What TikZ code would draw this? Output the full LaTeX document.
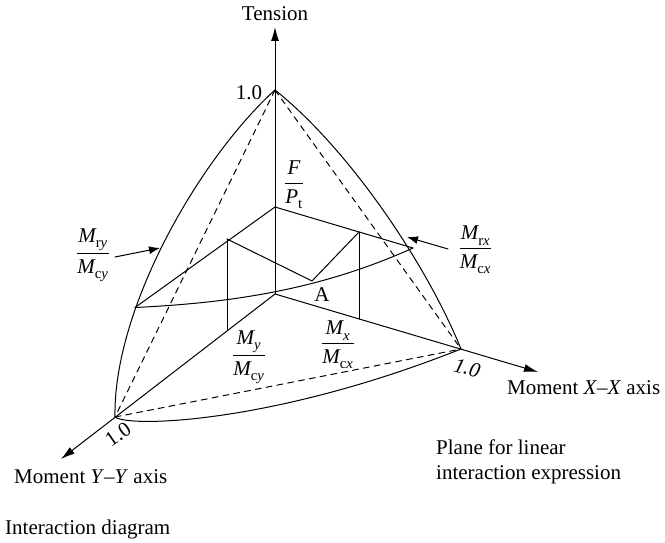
\documentclass[tikz,border=0pt]{standalone}
\usepackage{fontspec}
\setmainfont{Liberation Serif}
\usepackage{unicode-math}
\setmathfont{Latin Modern Math}
\setmathfont[range=it]{Liberation Serif Italic}
\setmathfont[range=up]{Liberation Serif}
\usetikzlibrary{arrows.meta}
\tikzset{
  axisline/.style={line width=1pt,-{Latex[length=14pt,width=8pt]}},
  edge/.style={line width=1pt},
  hidden/.style={line width=1pt,dash pattern=on 6pt off 5pt},
  lbl/.style={font=\fontsize{21}{24.5}\selectfont,inner sep=0pt,align=left}
}
\newcommand{\ratio}[2]{$\dfrac{#1}{#2}$}
\begin{document}
\begin{tikzpicture}[x=1pt,y=-1pt,line cap=round,line join=round]
  \useasboundingbox (0,0) rectangle (665,543);
  \coordinate (orig) at (275,294);
  \coordinate (top) at (275,90);
  \coordinate (xpt) at (461,349);
  \coordinate (ypt) at (115,417);
  \coordinate (ftop) at (275,207);
  \coordinate (rleft) at (135,307.5);
  \coordinate (rright) at (413,248);
  \coordinate (lmid) at (227,239);
  \coordinate (rmid) at (359,232);
  \coordinate (ptA) at (312,281);
  \coordinate (llow) at (227,330);
  \coordinate (rlow) at (359,319);
  \coordinate (ztip) at (275,27);
  \coordinate (xtip) at (538,372);
  \coordinate (ytip) at (61,459);
  \coordinate (rya) at (115,257);
  \coordinate (ryb) at (160,248);
  \coordinate (rxa) at (448,249);
  \coordinate (rxb) at (407,237);
  % axes
  \draw[axisline] (orig) -- (ztip);
  \draw[axisline] (orig) -- (xtip);
  \draw[axisline] (orig) -- (ytip);
  % outer surface
  \draw[edge] (top) .. controls (198,160) and (113,310) .. (ypt);
  \draw[edge] (top) .. controls (350,150) and (427,265) .. (xpt);
  \draw[edge] (ypt) .. controls (130,428) and (275,423) .. (xpt);
  % plane
  \draw[hidden] (top) -- (ypt);
  \draw[hidden] (top) -- (xpt);
  \draw[hidden] (ypt) -- (xpt);
  % section
  \draw[edge] (rleft) -- (ftop) -- (rright);
  \draw[edge] (rleft) .. controls (230,303) and (320,290) .. (rright);
  \draw[edge] (lmid) -- (llow);
  \draw[edge] (rmid) -- (rlow);
  \draw[edge] (lmid) -- (ptA) -- (rmid);
  % pointers
  \draw[edge,-{Latex[length=11pt,width=8pt]}] (rya) -- (ryb);
  \draw[edge,-{Latex[length=11pt,width=8pt]}] (rxa) -- (rxb);
  % labels
  \node[lbl] (ltens) at (275,14) {Tension};
  \node[lbl] (ltop) at (249,93) {1.0};
  \node[lbl] (lF) at (294,185) {\ratio{F}{P_{\mathrm{t}}}};
  \node[lbl] (lry) at (93,255) {\ratio{M_{\mathrm{r}y}}{M_{\mathrm{c}y}}};
  \node[lbl] (lrx) at (475.5,250) {\ratio{M_{\mathrm{r}x}}{M_{\mathrm{c}x}}};
  \node[lbl] (lA) at (322,295) {A};
  \node[lbl] (lmy) at (249,357) {\ratio{M_y}{M_{\mathrm{c}y}}};
  \node[lbl] (lmx) at (338,345) {\ratio{M_x}{M_{\mathrm{c}x}}};
  \node[lbl,rotate=35] (lone) at (118,434) {1.0};
  \node[lbl,font=\fontsize{21}{24.5}\selectfont\itshape,rotate=-15] (ltwo) at (467,368) {1.0};
  \node[lbl,anchor=west] (lxx) at (507,388) {Moment \textit{X}–\textit{X} axis};
  \node[lbl,anchor=west] (lyy) at (14,477) {Moment \textit{Y}–\textit{Y} axis};
  \node[lbl,anchor=north west] (lplane) at (436,440) {Plane for linear\\interaction expression};
  \node[lbl,anchor=west] (ldiag) at (5,529) {Interaction diagram};
\end{tikzpicture}
\end{document}
